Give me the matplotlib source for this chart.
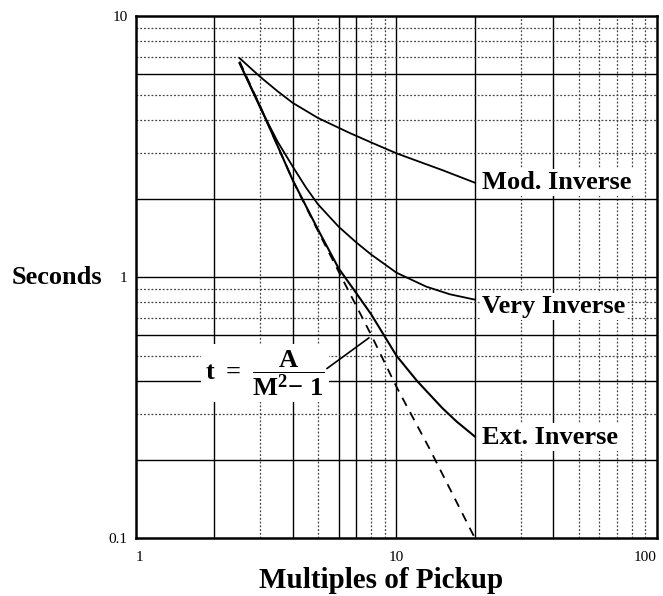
import matplotlib
matplotlib.use('Agg')
import matplotlib.pyplot as plt

# curve readings (multiples of pickup, seconds)
MOD_M = [2.5, 3.0, 3.5, 4.0, 5.0, 6.6, 8.0, 10, 15, 20]
MOD_T = [6.9, 5.85, 5.15, 4.65, 4.07, 3.57, 3.28, 2.98, 2.57, 2.3]

VERY_M = [2.5, 3.0, 3.5, 4.0, 4.5, 5.0, 6.0, 7.0, 8.0, 10, 13, 16, 20]
VERY_T = [6.6, 4.45, 3.3, 2.65, 2.2, 1.9, 1.56, 1.36, 1.22, 1.04, 0.92, 0.86, 0.82]

EXT_M = [2.5, 3.0, 4.0, 5.0, 6.0, 7.0, 8.0, 10, 12, 15, 17, 20]
EXT_T = [6.6, 4.5, 2.35, 1.52, 1.08, 0.87, 0.72, 0.50, 0.40, 0.315, 0.28, 0.245]

FORMULA_M = [2.5, 3.0, 4.0, 5.0, 6.0, 8.0, 10, 13.4, 20]
FORMULA_T = [6.7, 4.5, 2.35, 1.5, 1.05, 0.6, 0.38, 0.22, 0.1]

X_TICKS = [1, 10, 100]
X_TICK_LABELS = ['1', '10', '100']
Y_TICKS = [0.1, 1, 10]
Y_TICK_LABELS = ['0.1', '1', '10']

# grid lines: solid ones and dotted ones
X_SOLID = [2, 4, 6, 7, 10, 20, 40]
X_DOTTED = [3, 5, 8, 9, 30, 50, 60, 70, 80, 90]
Y_SOLID = [6, 2, 1, 0.6, 0.4, 0.2]
Y_DOTTED = [9, 8, 7, 5, 4, 3, 0.9, 0.8, 0.7, 0.5, 0.3]

SERIF = 'Liberation Serif'

plt.rcParams['mathtext.fontset'] = 'custom'
plt.rcParams['mathtext.rm'] = 'Liberation Serif:bold'
plt.rcParams['mathtext.it'] = 'Liberation Serif:bold'
plt.rcParams['mathtext.bf'] = 'Liberation Serif:bold'

fig = plt.figure(figsize=(6.63, 5.96), dpi=100)
ax = fig.add_axes([0.205, 0.097, 0.786, 0.876])
ax.set_xscale('log')
ax.set_yscale('log')
ax.set_xlim(1, 100)
ax.set_ylim(0.1, 10)

for x in X_SOLID:
    ax.axvline(x, color='black', lw=1.0, zorder=1)
for x in X_DOTTED:
    ax.axvline(x, color='#444444', lw=0.9, ls=(0, (1.5, 1.5)), zorder=1)
for y in Y_SOLID:
    ax.axhline(y, color='black', lw=1.0, zorder=1)
for y in Y_DOTTED:
    ax.axhline(y, color='#444444', lw=0.9, ls=(0, (1.5, 1.5)), zorder=1)

ax.plot(MOD_M, MOD_T, color='black', lw=1.3, zorder=3)
ax.plot(VERY_M, VERY_T, color='black', lw=1.3, zorder=3)
ax.plot(EXT_M, EXT_T, color='black', lw=1.5, zorder=3)
ax.plot(FORMULA_M, FORMULA_T, color='black', lw=1.3, ls=(0, (5, 4)), zorder=3)

box = dict(facecolor='white', edgecolor='none', pad=1.5)
lab = dict(fontsize=19, fontweight='bold', family=SERIF, va='center', ha='left', zorder=4)
ax.text(21.3, 2.3, 'Mod. Inverse', bbox=box, **lab)
ax.text(21.3, 0.77, 'Very Inverse', bbox=box, **lab)
ax.text(21.3, 0.244, 'Ext. Inverse', bbox=box, **lab)

ax.text(3.12, 0.43, r'$\mathrm{t}\ =\ \dfrac{\mathrm{A}}{\mathrm{M}^{2}\mathrm{-}\ 1}$',
        fontsize=19, ha='center', va='center', bbox=dict(facecolor='white', edgecolor='none', pad=3), zorder=4)
ax.annotate('', xy=(8.0, 0.594), xytext=(5.3, 0.44),
            arrowprops=dict(arrowstyle='-', color='black', lw=1.2), zorder=4)

ax.set_xticks(X_TICKS)
ax.set_xticklabels(X_TICK_LABELS)
ax.set_yticks(Y_TICKS)
ax.set_yticklabels(Y_TICK_LABELS)
ax.minorticks_off()
ax.tick_params(length=0, labelsize=11)
ax.tick_params(axis='x', pad=9)
ax.tick_params(axis='y', pad=6)
for t in ax.get_xticklabels() + ax.get_yticklabels():
    t.set_family(SERIF)
xl = ax.get_xticklabels()
xl[0].set_ha('left')
xl[-1].set_ha('right')

for s in ax.spines.values():
    s.set_linewidth(1.8)

fig.text(57 / 663, 1 - 277 / 596, 'Seconds', fontsize=19, fontweight='bold', family=SERIF,
         ha='center', va='center')
fig.text(381 / 663, 1 - 581 / 596, 'Multiples of Pickup', fontsize=21, fontweight='bold', family=SERIF,
         ha='center', va='center')

fig.savefig('out.png', dpi=100)
